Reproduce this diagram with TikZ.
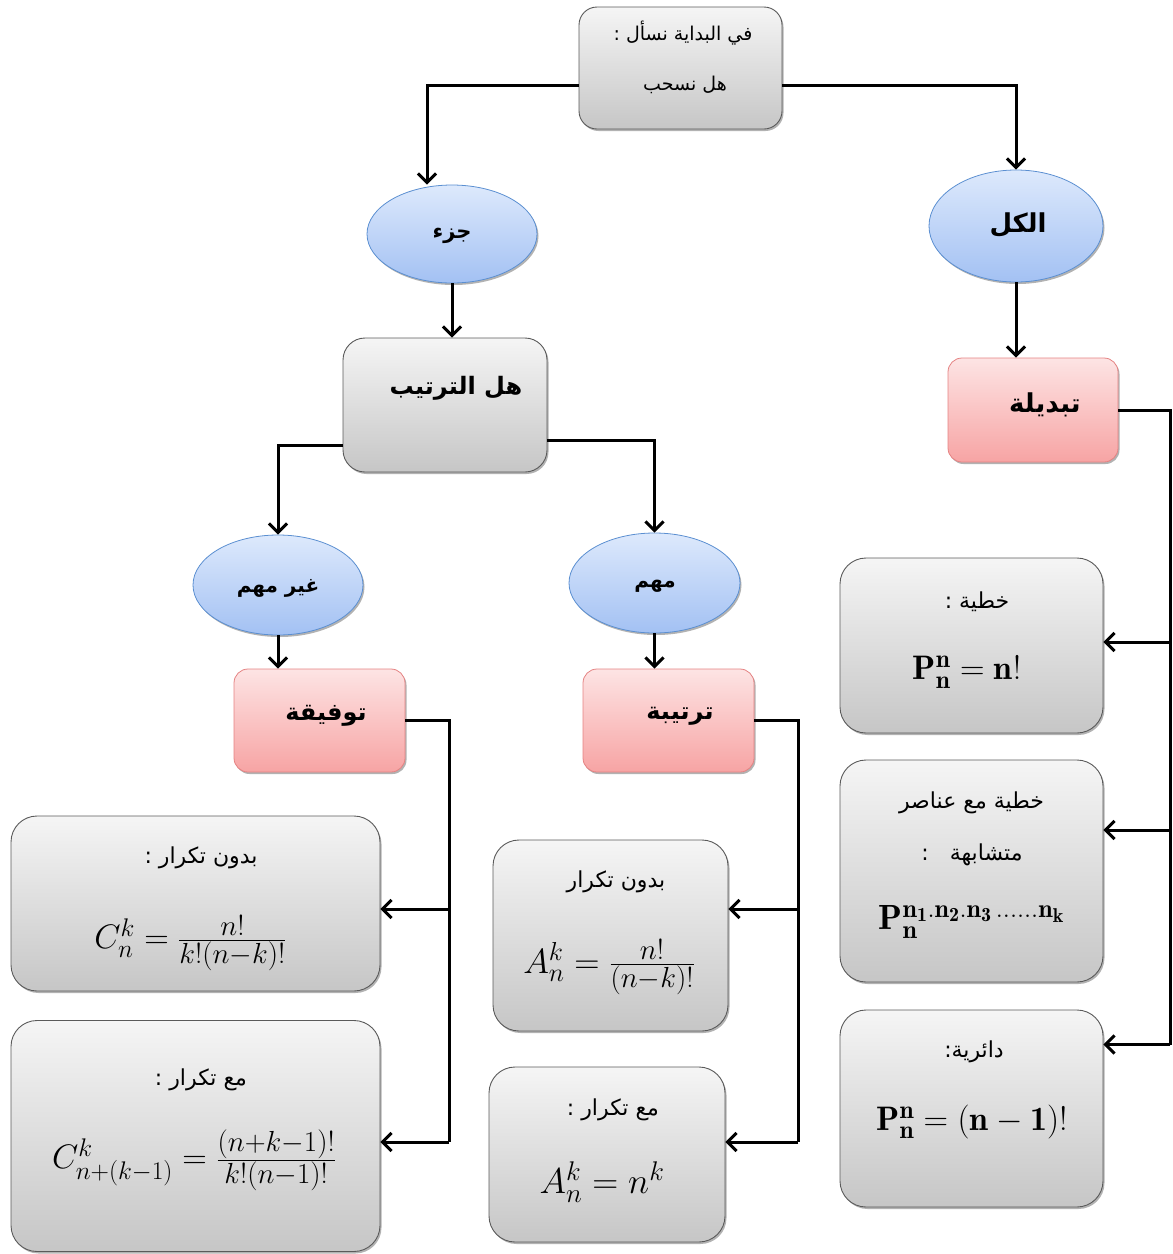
\RequirePackage{fix-cm}
\documentclass[tikz,border=0pt]{standalone}
\usepackage{amsmath}
\usepackage{fontspec}
\newfontfamily\arabicfont[Script=Arabic]{DejaVu Sans}
\TeXXeTstate=1
\DeclareMathSizes{32}{32}{24}{18}
\DeclareMathSizes{33}{33}{25}{19}
\DeclareMathSizes{34}{34}{25.5}{19}
\DeclareMathSizes{35}{35}{26}{20}
\DeclareMathSizes{36}{36}{27}{20}
\newcommand\myfrac[3]{\frac{\mbox{\fontsize{#1}{#1}\selectfont$#2$}}{\mbox{\fontsize{#1}{#1}\selectfont$#3$}}}
\usetikzlibrary{shapes.geometric,shadows,arrows.meta}
\definecolor{gtop}{HTML}{F5F5F5}
\definecolor{gbot}{HTML}{C6C6C6}
\definecolor{gbor}{HTML}{5A5A5A}
\definecolor{ptop}{HTML}{FDE4E4}
\definecolor{pbot}{HTML}{F7A4A4}
\definecolor{pbor}{HTML}{E58282}
\definecolor{etop}{HTML}{DDE9FC}
\definecolor{ebot}{HTML}{A3C1F3}
\definecolor{ebor}{HTML}{5B8FD1}
\tikzset{
  shad/.style={drop shadow={shadow xshift=1.5pt,shadow yshift=-2pt,opacity=0.3,fill=black}},
  graybox/.style={shad,rectangle,rounded corners=26pt,draw=gbor,line width=0.9pt,top color=gtop,bottom color=gbot,inner sep=0pt},
  topbox/.style={graybox,rounded corners=18pt},
  pinkbox/.style={shad,rectangle,rounded corners=14pt,draw=pbor,line width=0.8pt,top color=ptop,bottom color=pbot,inner sep=0pt},
  ell/.style={shad,ellipse,draw=ebor,line width=0.8pt,top color=etop,bottom color=ebot,inner sep=0pt},
  conn/.style={line width=3pt,line cap=butt,line join=miter},
  arr/.style={conn,-{Straight Barb[length=9pt,width=18pt,line width=3pt]}},
  artxt/.style={inner sep=0pt,font=\arabicfont\fontsize{#1}{#1}\selectfont},
  arbold/.style={inner sep=0pt,font=\arabicfont\bfseries\fontsize{#1}{#1}\selectfont},
  mtxt/.style={inner sep=0pt,font=\fontsize{#1}{#1}\selectfont},
}
\begin{document}
\begin{tikzpicture}[x=1pt,y=-1pt]
\useasboundingbox (0,0) rectangle (1173,1254);
% boxes
\node[topbox,minimum width=203pt,minimum height=122pt] (top) at (680.5,68) {};
\node[ell,minimum width=170pt,minimum height=98pt] (part) at (452,234) {};
\node[ell,minimum width=174pt,minimum height=112pt] (all) at (1016,226) {};
\node[graybox,rounded corners=22pt,minimum width=204pt,minimum height=134pt] (order) at (445,405) {};
\node[ell,minimum width=170pt,minimum height=100pt] (notimp) at (278,585) {};
\node[ell,minimum width=171pt,minimum height=100pt] (imp) at (654.5,583) {};
\node[pinkbox,minimum width=171pt,minimum height=103pt] (comb) at (319.5,720.5) {};
\node[pinkbox,minimum width=171pt,minimum height=103pt] (arrb) at (668.5,720.5) {};
\node[pinkbox,minimum width=170pt,minimum height=104pt] (perm) at (1033,410) {};
\node[graybox,minimum width=369pt,minimum height=175pt] (c1) at (195.5,903.5) {};
\node[graybox,minimum width=369pt,minimum height=231pt] (c2) at (195.5,1136) {};
\node[graybox,minimum width=235pt,minimum height=191pt] (a1) at (610.5,935.5) {};
\node[graybox,minimum width=236pt,minimum height=175pt] (a2) at (607,1154.5) {};
\node[graybox,minimum width=263pt,minimum height=175pt] (p1) at (971.5,645.5) {};
\node[graybox,minimum width=263pt,minimum height=222pt] (p2) at (971.5,871) {};
\node[graybox,minimum width=263pt,minimum height=197pt] (p3) at (971.5,1108.5) {};
% texts
\node[artxt=19] (topt1) at (683,33) {\beginR في البداية نسأل :\endR};
\node[artxt=19] (topt2) at (685,85) {\beginR هل نسحب\endR};
\node[arbold=21] (partt) at (452,236) {\beginR جزء\endR};
\node[arbold=26] (allt) at (1018,225) {\beginR الكل\endR};
\node[arbold=24] (ordert) at (456,388) {\beginR هل الترتيب\endR};
\node[arbold=20] (notimpt) at (278,588) {\beginR غير مهم\endR};
\node[arbold=20] (impt) at (655,586) {\beginR مهم\endR};
\node[arbold=24] (combt) at (326,716) {\beginR توفيقة\endR};
\node[arbold=24] (arrbt) at (680,716) {\beginR ترتيبة\endR};
\node[arbold=26] (permt) at (1045,405) {\beginR تبديلة\endR};
\node[artxt=22] (p1t) at (977,602) {\beginR خطية :\endR};
\node[mtxt=34] (p1f) at (967,672) {$\mathbf{P_n^n} = \mathbf{n}!$};
\node[artxt=22] (p2t1) at (971.5,803) {\beginR خطية مع عناصر\endR};
\node[artxt=22] (p2t2) at (972,855) {\beginR متشابهة \ \ :\endR};
\node[mtxt=35] (p2f) at (971.5,922) {$\mathbf{P_n^{n_1.n_2.n_3\,\ldots\ldots n_k}}$};
\node[artxt=22] (p3t) at (974,1052) {\beginR دائرية:\endR};
\node[mtxt=34] (p3f) at (972,1122) {$\mathbf{P_n^n} = (\mathbf{n}-\mathbf{1})!$};
\node[artxt=22] (c1t) at (201,858) {\beginR بدون تكرار :\endR};
\node[mtxt=34] (c1f) at (190.5,943) {$C_n^k = \myfrac{29}{n!}{k!(n{-}k)!}$};
\node[artxt=22] (c2t) at (201,1080) {\beginR مع تكرار :\endR};
\node[mtxt=34] (c2f) at (194,1160) {$C_{n+(k-1)}^k = \myfrac{29}{(n{+}k{-}1)!}{k!(n{-}1)!}$};
\node[artxt=22] (a1t) at (616,882) {\beginR بدون تكرار\endR};
\node[mtxt=35] (a1f) at (609,967) {$A_n^k = \myfrac{29}{n!}{(n{-}k)!}$};
\node[artxt=22] (a2t) at (613,1110) {\beginR مع تكرار :\endR};
\node[mtxt=36] (a2f) at (602,1182) {$A_n^k = n^k$};
% entry points
\coordinate (c1in) at ([yshift=-5.5pt]c1.east);
\coordinate (c2in) at ([yshift=-6pt]c2.east);
\coordinate (a1in) at ([yshift=26.5pt]a1.east);
\coordinate (a2in) at ([yshift=12.5pt]a2.east);
\coordinate (p1in) at ([yshift=3.5pt]p1.east);
\coordinate (p2in) at ([yshift=41pt]p2.east);
\coordinate (p3in) at ([yshift=64pt]p3.east);
% connectors
\draw[arr] ([yshift=-17pt]top.west) -| ([xshift=-25pt]part.north);
\draw[arr] ([yshift=-17pt]top.east) -| (all.north);
\draw[arr] (part.south) -- (part.south |- order.north);
\draw[arr] (all.south) -- (all.south |- perm.north);
\draw[arr] ([yshift=-40pt]order.west) -| (notimp.north);
\draw[arr] ([yshift=-35pt]order.east) -| (imp.north);
\draw[arr] (notimp.south) -- (notimp.south |- comb.north);
\draw[arr] (imp.south) -- (imp.south |- arrb.north);
% combinations
\draw[conn] (comb.east) -- ++(44,0) coordinate (cb) -- (cb |- c2in);
\draw[arr] (cb |- c1in) -- (c1in);
\draw[arr] (cb |- c2in) -- (c2in);
% arrangements
\draw[conn] (arrb.east) -- ++(44,0) coordinate (ab) -- (ab |- a2in);
\draw[arr] (ab |- a1in) -- (a1in);
\draw[arr] (ab |- a2in) -- (a2in);
% permutations
\draw[conn] (perm.east) -- ++(52,0) coordinate (pb) -- (pb |- p3in);
\draw[arr] (pb |- p1in) -- (p1in);
\draw[arr] (pb |- p2in) -- (p2in);
\draw[arr] (pb |- p3in) -- (p3in);
\end{tikzpicture}
\end{document}
